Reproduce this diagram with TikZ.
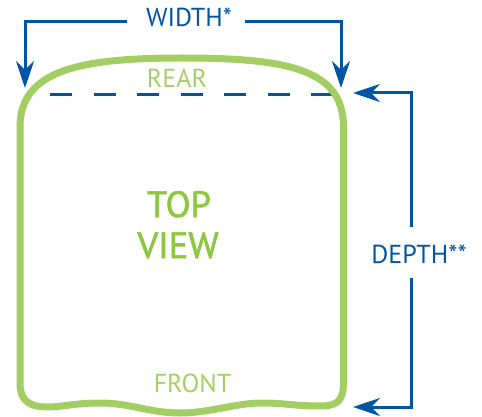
\documentclass[tikz,border=0pt]{standalone}
\usepackage{fontspec}
\setmainfont{PT Sans}
\newfontfamily\semib{PT Sans}[FakeBold=1.6]
\usetikzlibrary{arrows.meta}
\definecolor{dblue}{HTML}{0055A5}
\definecolor{lgreen}{HTML}{A3CE63}
\definecolor{tgreen}{HTML}{8DC63F}
\definecolor{rgreen}{HTML}{A5CF66}
\tikzset{
  dimline/.style={draw=dblue, line width=3pt, line join=miter,
    -{Stealth[length=27pt, width=18pt, inset=9pt]}},
  lbl/.style={text=dblue, font=\fontsize{26}{31}\selectfont, inner sep=0pt, anchor=base},
  gtxt/.style={text=rgreen, font=\fontsize{26}{31}\selectfont, inner sep=0pt, anchor=base},
  bigtxt/.style={text=tgreen, font=\semib\fontsize{36.5}{44}\selectfont, inner sep=0pt, anchor=base},
  outline/.style={draw=lgreen, line width=7pt, line join=round},
  dashline/.style={draw=dblue, line width=3pt, dash pattern=on 22pt off 21.5pt}
}
\begin{document}
\begin{tikzpicture}[x=1pt,y=-1pt]
\useasboundingbox (0,0) rectangle (482,417);
% dashed rear line
\coordinate (dl) at (50,95);
\coordinate (dr) at (332,95);
\draw[dashline] (dl) -- (dr);
% outline
\draw[outline] (20,383) -- (20,127)
  .. controls (20,70) and (80,58) .. (182,58)
  .. controls (290,58) and (343.5,70) .. (343.5,127)
  -- (343.5,383)
  .. controls (343.5,402) and (336,406) .. (320,406)
  .. controls (295,406) and (285,403) .. (262,403)
  .. controls (235,403) and (210,413) .. (180,413)
  .. controls (150,413) and (130,403) .. (100,403)
  .. controls (75,403) and (62,407) .. (48,407)
  .. controls (28,407) and (20,400) .. (20,383) -- cycle;
% texts
\node[lbl] (width) at (189,27) {WIDTH*};
\node[lbl] (depth) at (419,263) {DEPTH**};
\node[gtxt] (rear) at (177,88) {REAR};
\node[gtxt] (front) at (192.5,392) {FRONT};
\node[bigtxt] (top) at (179,217) {TOP};
\node[bigtxt] (view) at (178,258) {VIEW};
% width dimension
\coordinate (wl) at (127,22);
\coordinate (wlc) at (25,22);
\coordinate (wlt) at (25,88);
\coordinate (wr) at (245,22);
\coordinate (wrc) at (341,22);
\coordinate (wrt) at (341,88);
\draw[dimline] (wl) -- (wlc) -- (wlt);
\draw[dimline] (wr) -- (wrc) -- (wrt);
% depth dimension
\coordinate (dt) at (411,227);
\coordinate (dtc) at (411,93);
\coordinate (dtt) at (353,93);
\coordinate (db) at (411,278);
\coordinate (dbc) at (411,407);
\coordinate (dbt) at (353,407);
\draw[dimline] (dt) -- (dtc) -- (dtt);
\draw[dimline] (db) -- (dbc) -- (dbt);
\end{tikzpicture}
\end{document}
